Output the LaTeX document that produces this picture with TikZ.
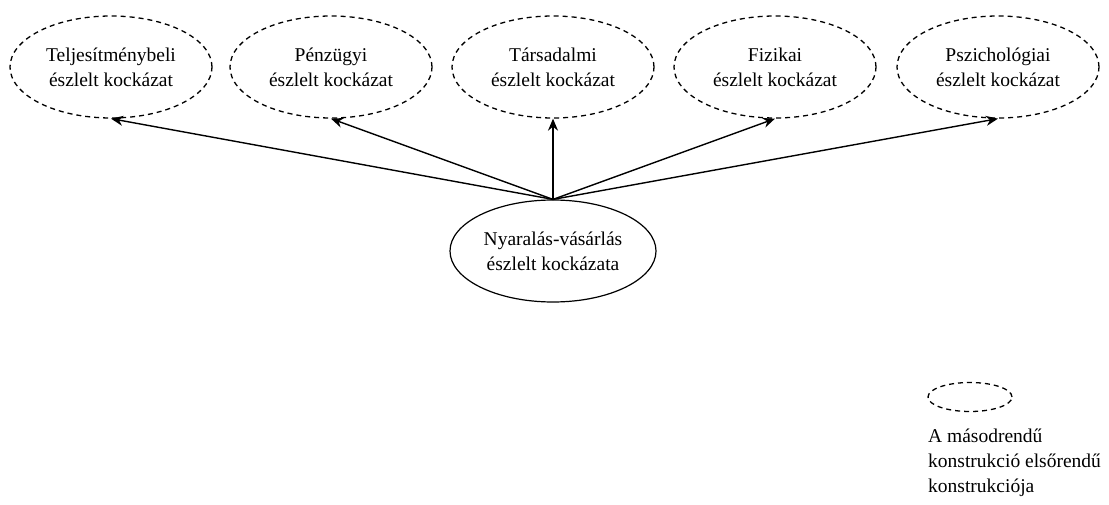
\documentclass[tikz,border=0pt]{standalone}
\usepackage{fontspec}
\setmainfont{Liberation Serif}
\newfontfamily\labelfont{Liberation Serif}
\usetikzlibrary{shapes.geometric,arrows.meta}
\begin{document}
\begin{tikzpicture}[x=1pt,y=-1pt,
  txt/.style={font=\labelfont\fontsize{19.5}{25}\selectfont, align=center},
  factor/.style={txt, ellipse, draw, dashed, dash pattern=on 5pt off 4pt,
    line width=1.3pt, minimum width=202pt, minimum height=102pt, inner sep=0pt},
  construct/.style={txt, ellipse, draw, line width=1.2pt,
    minimum width=206pt, minimum height=102pt, inner sep=0pt},
  link/.style={line width=1.4pt, -{Stealth[length=12pt,width=10pt]}}]
\useasboundingbox (0,0) rectangle (1109,505);

% first-order dimensions of perceived risk
\node[factor] (f1) at (111,67) {Teljesítménybeli\\észlelt kockázat};
\node[factor] (f2) at (331,67) {Pénzügyi\\észlelt kockázat};
\node[factor] (f3) at (553,67) {Társadalmi\\észlelt kockázat};
\node[factor] (f4) at (775,67) {Fizikai\\észlelt kockázat};
\node[factor] (f5) at (998,67) {Pszichológiai\\észlelt kockázat};

% second-order construct
\node[construct] (c) at (553,251) {Nyaralás-vásárlás\\észlelt kockázata};

\foreach \f in {f1,f2,f3,f4,f5}
  \draw[link] (c.north) -- (\f.south);

% legend
\node[ellipse, draw, dashed, dash pattern=on 5pt off 4pt, line width=1.3pt,
  minimum width=84pt, minimum height=29pt, inner sep=0pt] (key) at (970,397) {};
\node[txt, align=left, anchor=north west, inner sep=0pt] (keytext) at (928,429)
  {A másodrendű\\konstrukció elsőrendű\\konstrukciója};
\end{tikzpicture}
\end{document}
